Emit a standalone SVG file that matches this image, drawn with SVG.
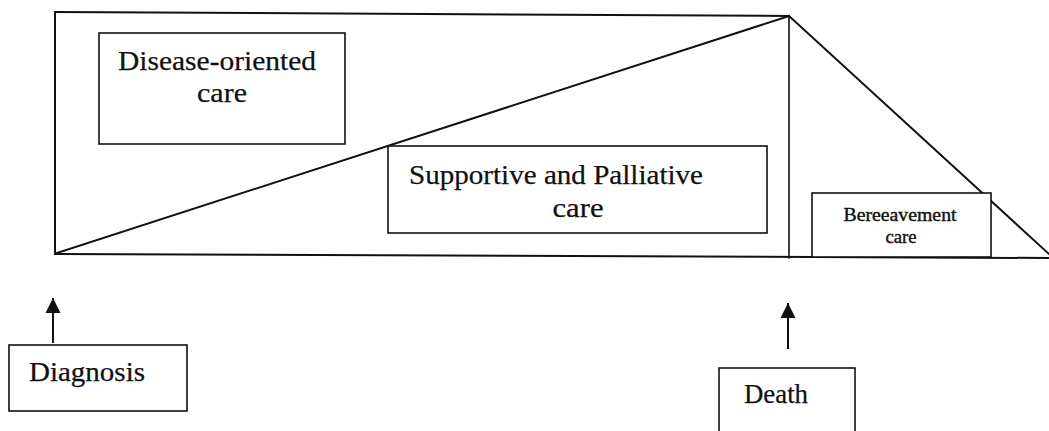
<svg xmlns="http://www.w3.org/2000/svg" width="1049" height="431" viewBox="0 0 1049 431">
<style>
.ln{stroke:#111;stroke-width:2;fill:none;stroke-linecap:square}
.bx{stroke:#111;stroke-width:1.6;fill:#fff}
.tx{font-family:"Liberation Serif","Times New Roman",serif;fill:#111;font-size:27px;stroke:#111;stroke-width:0.25}
.sm{font-family:"Liberation Serif","Times New Roman",serif;fill:#111;font-size:18px;stroke:#111;stroke-width:0.4}
</style>
<defs>
<marker id="ah" markerWidth="16" markerHeight="16" refX="8" refY="1" orient="0" markerUnits="userSpaceOnUse">
<path d="M8,0 L15.5,15 L0.5,15 Z" fill="#111"/>
</marker>
</defs>
<rect width="1049" height="431" fill="#fff"/>
<g id="frame">
<path class="ln" d="M55,12 L789,16"/>
<path class="ln" d="M55,12 L55,254"/>
<path class="ln" d="M55,254 L1049,258"/>
<path class="ln" d="M57,253 L789,16"/>
<path class="ln" d="M789,16 L1049,254"/>
<path class="ln" style="stroke-width:1.6" d="M789,16 L789,258"/>
</g>
<g id="disease">
<rect class="bx" x="99" y="33" width="246" height="111"/>
<text class="tx" x="217" y="70" text-anchor="middle" textLength="198" lengthAdjust="spacingAndGlyphs">Disease-oriented</text>
<text class="tx" x="222" y="102" text-anchor="middle" textLength="50" lengthAdjust="spacingAndGlyphs">care</text>
</g>
<g id="supportive">
<rect class="bx" x="388" y="146" width="379" height="87"/>
<text class="tx" x="556" y="184" text-anchor="middle" textLength="294" lengthAdjust="spacingAndGlyphs">Supportive and Palliative</text>
<text class="tx" x="578" y="217" text-anchor="middle" textLength="51" lengthAdjust="spacingAndGlyphs">care</text>
</g>
<g id="bereavement">
<rect class="bx" x="812" y="193" width="179" height="64"/>
<text class="sm" x="900" y="221" text-anchor="middle" textLength="113" lengthAdjust="spacingAndGlyphs">Bereeavement</text>
<text class="sm" x="901" y="243" text-anchor="middle" textLength="31" lengthAdjust="spacingAndGlyphs">care</text>
</g>
<g id="diagnosis">
<rect class="bx" x="9" y="345" width="178" height="66"/>
<text class="tx" x="87" y="381" text-anchor="middle" textLength="116" lengthAdjust="spacingAndGlyphs">Diagnosis</text>
</g>
<g id="death">
<rect class="bx" x="719" y="368" width="136" height="70"/>
<text class="tx" x="776" y="403" text-anchor="middle" textLength="64" lengthAdjust="spacingAndGlyphs">Death</text>
</g>
<g id="connectors">
<path class="ln" d="M53,342 L53,299" marker-end="url(#ah)"/>
<path class="ln" d="M788,348 L788,304" marker-end="url(#ah)"/>
</g>
</svg>
